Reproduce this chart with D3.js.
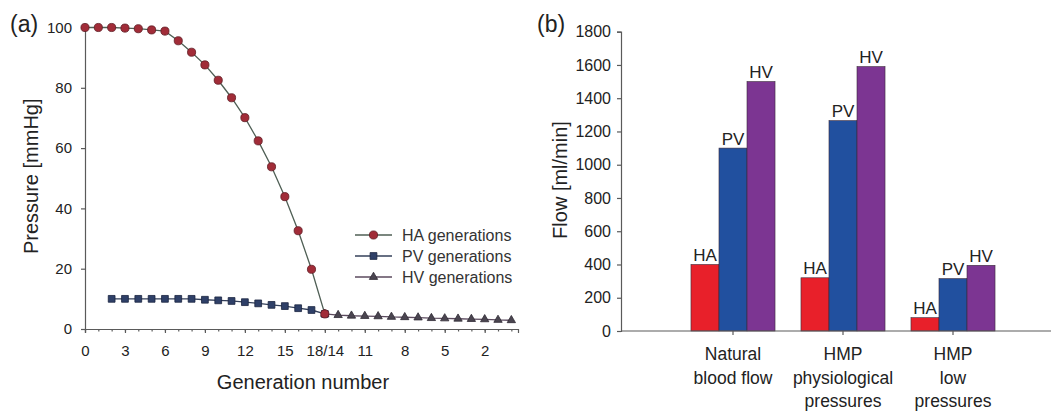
<!DOCTYPE html>
<html>
<head>
<meta charset="utf-8">
<script src="https://cdn.jsdelivr.net/npm/d3@7"></script>
<style>
  body { margin: 0; background: #fff; }
  svg { display: block; font-family: "Liberation Sans", Arial, sans-serif; }
  .axis path, .axis line { stroke: #5a5a5a; stroke-width: 1.2; }
  .axis text { fill: #222; }
</style>
</head>
<body>
<svg width="1051" height="413"></svg>
<script>
// panel (a) - pressure along the generations
const haX = [0, 1, 2, 3, 4, 5, 6, 7, 8, 9, 10, 11, 12, 13, 14, 15, 16, 17, 18];
const haPressure = [100, 100, 100, 99.8, 99.6, 99.2, 98.8, 95.6, 91.8, 87.6, 82.5, 76.7, 70.1, 62.4, 53.8, 43.9, 32.6, 19.8, 5.0];
const pvX = [2, 3, 4, 5, 6, 7, 8, 9, 10, 11, 12, 13, 14, 15, 16, 17, 18];
const pvPressure = [10, 10, 10, 10, 10, 10, 10, 9.7, 9.5, 9.3, 8.9, 8.5, 8.0, 7.6, 6.9, 6.3, 5.0];
const hvX = [18, 19, 20, 21, 22, 23, 24, 25, 26, 27, 28, 29, 30, 31, 32];
const hvPressure = [5.0, 4.6, 4.4, 4.3, 4.2, 4.0, 3.9, 3.8, 3.6, 3.5, 3.4, 3.3, 3.2, 3.0, 2.9];
const xTickVals = [0, 3, 6, 9, 12, 15, 18, 21, 24, 27, 30];
const xTickLabels = ["0", "3", "6", "9", "12", "15", "18/14", "11", "8", "5", "2"];
const yTicksA = [0, 20, 40, 60, 80, 100];
const legendNames = ["HA generations", "PV generations", "HV generations"];

// panel (b) - flow
const categories = [["Natural", "blood flow"], ["HMP", "physiological", "pressures"], ["HMP", "low", "pressures"]];
const vessels = ["HA", "PV", "HV"];
const haFlow = [400, 320, 80];
const pvFlow = [1100, 1265, 315];
const hvFlow = [1500, 1590, 395];
const yTicksB = [0, 200, 400, 600, 800, 1000, 1200, 1400, 1600, 1800];

const svg = d3.select("svg");

// ---------- (a) ----------
const xA = d3.scaleLinear().domain([0, 32.5]).range([85, 518]);
const yA = d3.scaleLinear().domain([0, 100]).range([329, 27.5]);

const gA = svg.append("g");

// minor ticks every generation
gA.append("g")
  .attr("class", "axis")
  .attr("transform", `translate(0,${yA(0)})`)
  .call(d3.axisBottom(xA).tickValues(d3.range(0, 33)).tickSize(2.5).tickFormat(""))
  .call(g => g.select(".domain").remove());

gA.append("g")
  .attr("class", "axis")
  .attr("transform", `translate(0,${yA(0)})`)
  .call(d3.axisBottom(xA).tickValues(xTickVals).tickSizeOuter(0).tickSize(4).tickPadding(12)
    .tickFormat((d, i) => xTickLabels[i]))
  .call(g => g.selectAll("text").attr("font-size", 15));

gA.append("g")
  .attr("class", "axis")
  .attr("transform", `translate(${xA(0)},0)`)
  .call(d3.axisLeft(yA).tickValues(yTicksA).tickSizeOuter(0).tickSize(4).tickPadding(9))
  .call(g => g.selectAll("text").attr("font-size", 15));

gA.append("text")
  .attr("transform", `translate(38,${(yA(0) + yA(100)) / 2 - 2}) rotate(-90)`)
  .attr("text-anchor", "middle")
  .attr("font-size", 20)
  .attr("fill", "#222")
  .text("Pressure [mmHg]");

gA.append("text")
  .attr("x", 303).attr("y", 389)
  .attr("text-anchor", "middle")
  .attr("font-size", 20)
  .attr("fill", "#222")
  .text("Generation number");

gA.append("text")
  .attr("x", 10).attr("y", 32)
  .attr("font-size", 23)
  .attr("fill", "#222")
  .text("(a)");

const lineA = d3.line().x(d => xA(d[0])).y(d => yA(d[1]));
const haData = d3.zip(haX, haPressure);
const pvData = d3.zip(pvX, pvPressure);
const hvData = d3.zip(hvX, hvPressure);

const series = [
  { data: hvData, line: "#5b4a5e", fill: "#4a4550", stroke: "#2e2a33", shape: d3.symbolTriangle, size: 30 },
  { data: pvData, line: "#34405a", fill: "#2f4068", stroke: "#1a2440", shape: d3.symbolSquare, size: 46 },
  { data: haData, line: "#4f5f55", fill: "#a12c38", stroke: "#5e1a22", shape: d3.symbolCircle, size: 52 }
];

series.forEach(s => {
  gA.append("path")
    .datum(s.data)
    .attr("d", lineA)
    .attr("fill", "none")
    .attr("stroke", s.line)
    .attr("stroke-width", 1.3);
  gA.append("g").selectAll("path")
    .data(s.data)
    .join("path")
    .attr("transform", d => `translate(${xA(d[0])},${yA(d[1])})`)
    .attr("d", d3.symbol().type(s.shape).size(s.size))
    .attr("fill", s.fill)
    .attr("stroke", s.stroke)
    .attr("stroke-width", 0.8);
});

// legend, same order as series reversed
const legendSeries = [series[2], series[1], series[0]];
const legend = gA.append("g");
legendSeries.forEach((s, i) => {
  const y = 235 + i * 21;
  legend.append("line")
    .attr("x1", 355).attr("x2", 392).attr("y1", y).attr("y2", y)
    .attr("stroke", s.line).attr("stroke-width", 1.3);
  legend.append("path")
    .attr("transform", `translate(373.5,${y})`)
    .attr("d", d3.symbol().type(s.shape).size(s.size))
    .attr("fill", s.fill).attr("stroke", s.stroke).attr("stroke-width", 0.8);
  legend.append("text")
    .attr("x", 402).attr("y", y + 5.5)
    .attr("font-size", 16)
    .attr("fill", "#333")
    .text(legendNames[i]);
});

// ---------- (b) ----------
const yB = d3.scaleLinear().domain([0, 1800]).range([331, 31.7]);
const xB = d3.scaleBand().domain(d3.range(categories.length)).range([678, 1008])
  .paddingInner(0.236).paddingOuter(0.118);
const xSub = d3.scaleBand().domain(vessels).range([0, xB.bandwidth()]);
const colors = { HA: "#e8202a", PV: "#21509f", HV: "#7c3592" };
const flows = { HA: haFlow, PV: pvFlow, HV: hvFlow };

const gB = svg.append("g");

gB.append("g")
  .attr("class", "axis")
  .attr("transform", `translate(621,0)`)
  .call(d3.axisLeft(yB).tickValues(yTicksB).tickFormat(d3.format("d"))
    .tickSizeOuter(0).tickSize(4).tickPadding(6))
  .call(g => g.selectAll("text").attr("font-size", 16));

gB.append("text")
  .attr("transform", `translate(567,180) rotate(-90)`)
  .attr("text-anchor", "middle")
  .attr("font-size", 20)
  .attr("fill", "#222")
  .text("Flow [ml/min]");

gB.append("text")
  .attr("x", 537).attr("y", 32)
  .attr("font-size", 23)
  .attr("fill", "#222")
  .text("(b)");

categories.forEach((cat, ci) => {
  const bars = gB.append("g").attr("transform", `translate(${xB(ci)},0)`);
  vessels.forEach(v => {
    const val = flows[v][ci];
    bars.append("rect")
      .attr("x", xSub(v))
      .attr("y", yB(val))
      .attr("width", xSub.bandwidth())
      .attr("height", yB(0) - yB(val))
      .attr("fill", colors[v])
      .attr("stroke", "#3a2a3a")
      .attr("stroke-width", 0.6);
    bars.append("text")
      .attr("x", xSub(v) + xSub.bandwidth() / 2)
      .attr("y", yB(val) - 3.5)
      .attr("text-anchor", "middle")
      .attr("font-size", 17)
      .attr("fill", "#222")
      .text(v);
  });
});

// category axis
const xAxisB = gB.append("g")
  .attr("class", "axis")
  .attr("transform", `translate(0,${yB(0)})`);
xAxisB.append("line")
  .attr("x1", 621).attr("x2", 1051)
  .attr("stroke", "#5a5a5a").attr("stroke-width", 1.2);
categories.forEach((cat, ci) => {
  const cx = xB(ci) + xB.bandwidth() / 2;
  xAxisB.append("line")
    .attr("x1", cx).attr("x2", cx).attr("y1", 0).attr("y2", 4);
  const t = xAxisB.append("text")
    .attr("text-anchor", "middle")
    .attr("font-size", 17.5)
    .attr("fill", "#222");
  cat.forEach((line, li) => {
    t.append("tspan").attr("x", cx).attr("y", 29 + li * 23.5).text(line);
  });
});
</script>
</body>
</html>
